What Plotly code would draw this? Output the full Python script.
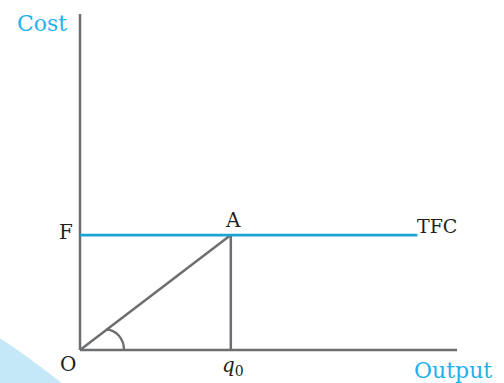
import plotly.graph_objects as go

# ---- data (chart units) ----
output_max = 10.0      # length of the Output axis
cost_max = 100.0       # height of the Cost axis
fixed_cost = 34.2      # F : level of TFC
q0 = 4.0               # output level q0
tfc_end = 8.95         # where the TFC line ends
point_labels = ["O", "F", "A", "TFC"]
axis_titles = ["Cost", "Output"]

# ---- layout geometry ----
W, H = 504, 383
ox, oy = 80, 350          # pixel of origin
sx, sy = 37.7, 3.36       # pixels per unit
L, R, T, B = 60, 39, 8, 20
xr = [(L - ox) / sx, (W - R - ox) / sx]
yr = [(oy - (H - B)) / sy, (oy - T) / sy]
pw, ph = W - L - R, H - T - B

def px2paper(px, py):
    return (px - L) / pw, (H - B - py) / ph

GREY = "#6d6e71"
BLUE_LINE = "#1ba3da"
BLUE_TXT = "#1fb2ec"
SERIF = "DejaVu Serif"

fig = go.Figure()

# axes
fig.add_trace(go.Scatter(x=[0, 0], y=[cost_max, 0], mode="lines",
                         line=dict(color=GREY, width=2.5), hoverinfo="skip"))
fig.add_trace(go.Scatter(x=[0, output_max], y=[0, 0], mode="lines",
                         line=dict(color=GREY, width=2.5), hoverinfo="skip"))
# OA ray and A-q0 drop
fig.add_trace(go.Scatter(x=[0, q0], y=[0, fixed_cost], mode="lines",
                         line=dict(color=GREY, width=2.5), hoverinfo="skip"))
fig.add_trace(go.Scatter(x=[q0, q0], y=[fixed_cost, 0], mode="lines",
                         line=dict(color=GREY, width=2.5), hoverinfo="skip"))
# TFC
fig.add_trace(go.Scatter(x=[0, tfc_end], y=[fixed_cost, fixed_cost], mode="lines",
                         line=dict(color=BLUE_LINE, width=2.8), hoverinfo="skip"))

# decorative light-blue blob (bottom-left)
p = [px2paper(*c) for c in [(-5, 335), (28, 356), (68, 388), (-5, 388)]]
blob = "M {:.4f},{:.4f} Q {:.4f},{:.4f} {:.4f},{:.4f} L {:.4f},{:.4f} Z".format(
    p[0][0], p[0][1], p[1][0], p[1][1], p[2][0], p[2][1], p[3][0], p[3][1])
fig.add_shape(type="path", path=blob, xref="paper", yref="paper",
              fillcolor="#c5e8f8", line=dict(width=0), layer="below")

# angle arc near origin
a = [px2paper(*c) for c in [(106, 329.5), (116, 329.5), (124, 339), (124, 350)]]
arc = "M {:.4f},{:.4f} C {:.4f},{:.4f} {:.4f},{:.4f} {:.4f},{:.4f}".format(
    a[0][0], a[0][1], a[1][0], a[1][1], a[2][0], a[2][1], a[3][0], a[3][1])
fig.add_shape(type="path", path=arc, xref="paper", yref="paper",
              line=dict(color=GREY, width=2.3))

black = dict(family=SERIF, size=20, color="#231f20")
black_s = dict(family=SERIF, size=19, color="#231f20")
blue = dict(family=SERIF, size=22, color=BLUE_TXT)

ann = [
    dict(x=0, y=cost_max, text=axis_titles[0], xanchor="right", yanchor="middle",
         xshift=-11, yshift=-9, font=blue),
    dict(x=output_max, y=0, text=axis_titles[1], xanchor="center", yanchor="top",
         xshift=-4, yshift=-6, font=blue),
    dict(x=0, y=0, text=point_labels[0], xanchor="right", yanchor="top",
         xshift=-2, yshift=0, font=black),
    dict(x=0, y=fixed_cost, text=point_labels[1], xanchor="right", yanchor="middle",
         xshift=-5, yshift=3, font=black),
    dict(x=q0, y=fixed_cost, text=point_labels[2], xanchor="center", yanchor="bottom",
         xshift=2, yshift=1, font=black),
    dict(x=tfc_end, y=fixed_cost, text=point_labels[3], xanchor="left", yanchor="bottom",
         xshift=-2, yshift=-4, font=black_s),
    dict(x=q0, y=0, text="<i>q</i><sub>0</sub>", xanchor="center", yanchor="top",
         xshift=2, yshift=-1, font=dict(family=SERIF, size=20, color="#231f20")),
]
for d in ann:
    d.update(showarrow=False, xref="x", yref="y")
fig.update_layout(annotations=ann)

fig.update_layout(
    width=W, height=H, margin=dict(l=L, r=R, t=T, b=B, autoexpand=False),
    paper_bgcolor="white", plot_bgcolor="white", showlegend=False,
    xaxis=dict(range=xr, visible=False, fixedrange=True),
    yaxis=dict(range=yr, visible=False, fixedrange=True),
)

fig.write_html("out.html", config={"displayModeBar": False},
               post_script="document.body.style.margin='0';document.body.style.overflow='hidden';")
